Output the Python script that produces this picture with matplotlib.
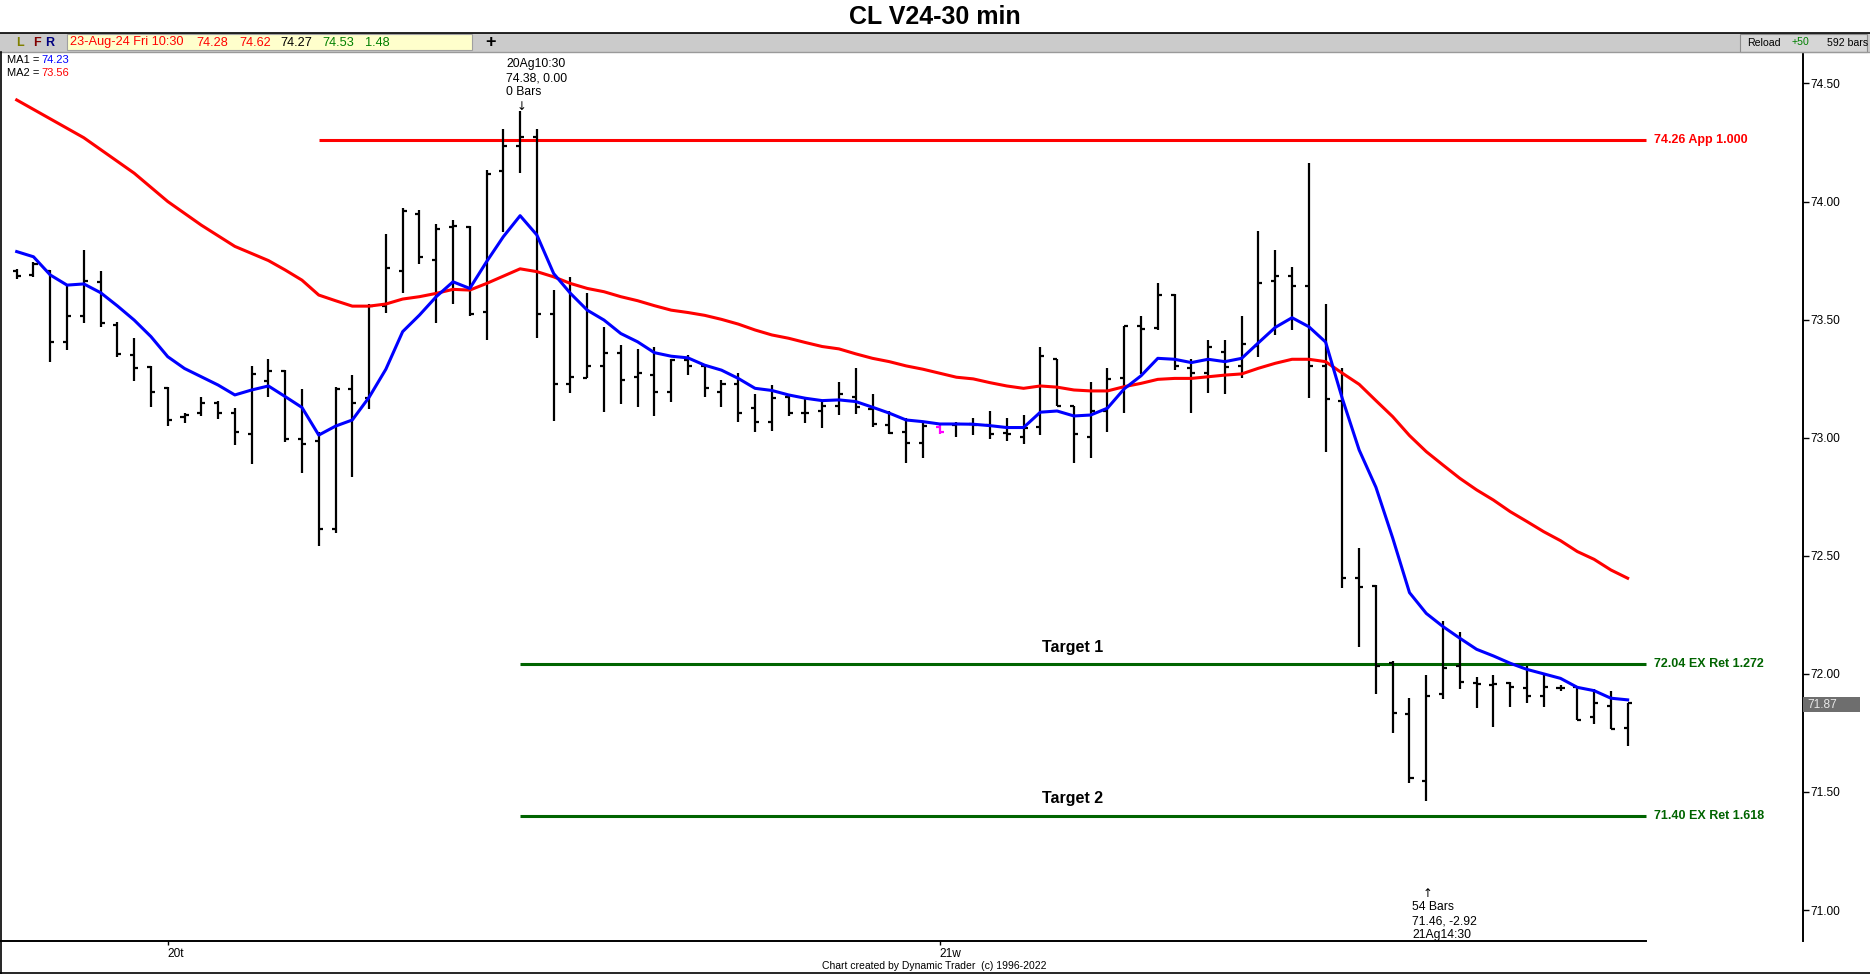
"""CL V24 30-min bar chart with two moving averages and projection levels."""
import numpy as np
import matplotlib
matplotlib.use("Agg")
import matplotlib.pyplot as plt
from matplotlib import font_manager
from matplotlib.patches import Rectangle
from matplotlib.transforms import blended_transform_factory

W, H = 1870, 974
names = {f.name for f in font_manager.fontManager.ttflist}
SANS = "Liberation Sans" if "Liberation Sans" in names else "DejaVu Sans"
NARROW = "Liberation Sans Narrow" if "Liberation Sans Narrow" in names else SANS
plt.rcParams["font.family"] = [SANS, "DejaVu Sans"]

# ---------------- data ----------------
opens = [73.706, 73.687, 73.707, 73.406, 73.516, 73.660, 73.477, 73.350, 73.300, 73.210,
         73.086, 73.106, 73.148, 73.106, 73.015, 73.240, 73.284, 72.993, 72.987, 72.612,
         73.206, 73.170, 73.557, 73.707, 73.947, 73.752, 73.890, 73.893, 73.533, 74.129,
         74.236, 74.271, 73.523, 73.226, 73.254, 73.305, 73.357, 73.258, 73.265, 73.195,
         73.330, 73.305, 73.195, 73.227, 73.124, 73.067, 73.174, 73.106, 73.115, 73.135,
         73.174, 73.120, 73.054, 73.026, 72.977, 73.047, 73.054, 73.058, 73.054, 73.019,
         73.005, 73.047, 73.334, 73.135, 73.005, 73.115, 73.254, 73.474, 73.463, 73.604,
         73.296, 73.275, 73.364, 73.303, 73.388, 73.665, 73.685, 73.642, 73.303, 73.157,
         72.408, 72.370, 72.045, 71.829, 71.547, 71.915, 72.035, 71.960, 71.953, 71.960,
         71.939, 71.908, 71.942, 71.943, 71.819, 71.864, 71.770]
highs = [73.714, 73.744, 73.710, 73.646, 73.794, 73.706, 73.491, 73.423, 73.303, 73.213,
         73.103, 73.174, 73.157, 73.124, 73.303, 73.332, 73.286, 73.205, 73.025, 73.213,
         73.265, 73.566, 73.862, 73.974, 73.964, 73.903, 73.921, 73.895, 74.133, 74.309,
         74.383, 74.309, 73.625, 73.681, 73.611, 73.470, 73.392, 73.374, 73.385, 73.333,
         73.350, 73.314, 73.244, 73.272, 73.187, 73.223, 73.184, 73.171, 73.153, 73.235,
         73.294, 73.184, 73.113, 73.082, 73.068, 73.064, 73.068, 73.085, 73.113, 73.085,
         73.096, 73.383, 73.334, 73.136, 73.235, 73.294, 73.474, 73.515, 73.653, 73.607,
         73.332, 73.414, 73.414, 73.515, 73.875, 73.795, 73.721, 74.162, 73.565, 73.294,
         72.532, 72.376, 72.055, 71.897, 71.995, 72.224, 72.176, 71.986, 71.995, 71.964,
         72.033, 71.995, 71.953, 71.949, 71.935, 71.928, 71.878]
lows = [73.670, 73.682, 73.322, 73.371, 73.484, 73.469, 73.343, 73.241, 73.131, 73.049,
        73.063, 73.092, 73.079, 72.969, 72.889, 73.171, 72.983, 72.852, 72.543, 72.595,
        72.832, 73.120, 73.529, 73.611, 73.734, 73.484, 73.568, 73.515, 73.413, 73.872,
        74.122, 73.420, 73.072, 73.190, 73.254, 73.110, 73.141, 73.131, 73.093, 73.152,
        73.265, 73.173, 73.131, 73.065, 73.022, 73.029, 73.092, 73.064, 73.043, 73.094,
        73.101, 73.044, 73.016, 72.892, 72.913, 73.016, 73.002, 73.012, 72.993, 72.984,
        72.972, 73.012, 73.134, 72.892, 72.913, 73.022, 73.103, 73.270, 73.456, 73.287,
        73.103, 73.191, 73.184, 73.251, 73.343, 73.435, 73.456, 73.169, 72.941, 72.362,
        72.113, 71.914, 71.751, 71.537, 71.463, 71.892, 71.935, 71.854, 71.774, 71.861,
        71.875, 71.861, 71.929, 71.805, 71.788, 71.765, 71.695]
closes = [73.684, 73.735, 73.406, 73.516, 73.665, 73.487, 73.353, 73.296, 73.195, 73.075,
          73.096, 73.148, 73.103, 73.025, 73.268, 73.284, 72.993, 72.973, 72.613, 73.207,
          73.145, 73.557, 73.717, 73.959, 73.766, 73.882, 73.896, 73.523, 74.115, 74.236,
          74.274, 73.523, 73.226, 73.258, 73.305, 73.357, 73.244, 73.275, 73.195, 73.331,
          73.305, 73.209, 73.227, 73.103, 73.067, 73.166, 73.106, 73.106, 73.135, 73.185,
          73.129, 73.057, 73.019, 72.977, 73.050, 73.026, 73.058, 73.054, 73.016, 73.016,
          73.040, 73.346, 73.135, 73.016, 73.115, 73.247, 73.474, 73.459, 73.604, 73.303,
          73.275, 73.385, 73.298, 73.395, 73.656, 73.685, 73.642, 73.303, 73.164, 72.408,
          72.367, 72.033, 71.836, 71.558, 71.908, 72.026, 71.967, 71.957, 71.957, 71.946,
          71.908, 71.946, 71.939, 71.805, 71.878, 71.765, 71.878]
ma1 = [73.788, 73.766, 73.689, 73.646, 73.651, 73.614, 73.558, 73.498, 73.428, 73.343,
       73.293, 73.258, 73.223, 73.181, 73.202, 73.219, 73.174, 73.128, 73.011, 73.049,
       73.075, 73.171, 73.290, 73.449, 73.519, 73.597, 73.660, 73.632, 73.745, 73.851,
       73.940, 73.858, 73.695, 73.611, 73.540, 73.498, 73.441, 73.406, 73.360, 73.345,
       73.338, 73.307, 73.286, 73.251, 73.209, 73.200, 73.181, 73.167, 73.157, 73.160,
       73.153, 73.129, 73.104, 73.075, 73.068, 73.058, 73.058, 73.057, 73.051, 73.043,
       73.043, 73.108, 73.113, 73.092, 73.096, 73.125, 73.207, 73.262, 73.336, 73.332,
       73.318, 73.332, 73.322, 73.336, 73.402, 73.467, 73.508, 73.470, 73.405, 73.165,
       72.948, 72.790, 72.575, 72.344, 72.256, 72.200, 72.151, 72.104, 72.076, 72.045,
       72.019, 72.000, 71.981, 71.943, 71.929, 71.897, 71.890]
ma2 = [74.430, 74.390, 74.350, 74.310, 74.270, 74.220, 74.170, 74.120, 74.060, 74.000,
       73.950, 73.900, 73.855, 73.810, 73.780, 73.750, 73.710, 73.667, 73.604, 73.580,
       73.557, 73.557, 73.566, 73.587, 73.597, 73.611, 73.628, 73.625, 73.653, 73.684,
       73.715, 73.703, 73.681, 73.653, 73.632, 73.618, 73.597, 73.580, 73.559, 73.540,
       73.530, 73.518, 73.501, 73.481, 73.456, 73.435, 73.421, 73.403, 73.386, 73.376,
       73.355, 73.336, 73.322, 73.304, 73.290, 73.273, 73.256, 73.249, 73.233, 73.219,
       73.209, 73.219, 73.214, 73.202, 73.198, 73.198, 73.216, 73.230, 73.247, 73.251,
       73.251, 73.258, 73.265, 73.270, 73.294, 73.315, 73.332, 73.332, 73.322, 73.273,
       73.226, 73.157, 73.089, 73.009, 72.941, 72.884, 72.828, 72.779, 72.736, 72.687,
       72.645, 72.602, 72.564, 72.518, 72.485, 72.440, 72.405]

level_prices = [74.26, 72.04, 71.40]
level_labels = ["74.26 App 1.000", "72.04 EX Ret 1.272", "71.40 EX Ret 1.618"]
level_start_bar = [18, 30, 30]
target_names = ["Target 1", "Target 2"]

day_ticks = [9, 55]
day_labels = ["20t", "21w"]
y_ticks = [71.0, 71.5, 72.0, 72.5, 73.0, 73.5, 74.0, 74.5]

peak_bar, trough_bar = 30, 84
peak_text = ["20Ag10:30", "74.38, 0.00", "0 Bars"]
trough_text = ["54 Bars", "71.46, -2.92", "21Ag14:30"]
last_price = 71.87
ma1_now, ma2_now = "74.23", "73.56"

RED, BLUE, GREEN = "#FF0000", "#0000FF", "#006400"
HIGHLIGHT_BAR = 55

# ---------------- figure ----------------
fig = plt.figure(figsize=(W / 100, H / 100), dpi=100)
fig.patch.set_facecolor("white")

# price panel (drawn first, chrome overlay goes on top)
ax = fig.add_axes([0, 33 / H, 1803 / W, (941 - 52) / H])
ax.patch.set_visible(False)
n = len(closes)
x = np.arange(n)
ax.set_xlim(-0.995, 106.45)
ax.set_ylim(70.869, 74.633)

level_end = n + 0.1
for price, lab, start, col in zip(level_prices, level_labels, level_start_bar,
                                  [RED, GREEN, GREEN]):
    ax.hlines(price, start, level_end, color=col, lw=2.2, zorder=2)
    ax.text(level_end + 0.45, price, lab, ha="left", va="center", color=col,
            fontsize=9, fontweight="bold", family=NARROW)
for name, price in zip(target_names, level_prices[1:]):
    ax.annotate(name, (62.9, price), xytext=(0, 17), textcoords="offset pixels",
                ha="center", va="center", fontsize=11.5, fontweight="bold", family=NARROW)

colors = ["black"] * n
colors[HIGHLIGHT_BAR] = "#FF00FF"
ax.vlines(x, lows, highs, colors=colors, lw=1.6, zorder=3)
ax.hlines(opens, x - 0.24, x, colors=colors, lw=1.6, zorder=3)
ax.hlines(closes, x, x + 0.24, colors=colors, lw=1.6, zorder=3)

ax.plot(x, ma2, color=RED, lw=2.2, zorder=4)
ax.plot(x, ma1, color=BLUE, lw=2.2, zorder=5)

# swing annotations
for k, s in enumerate(peak_text):
    ax.annotate(s, (peak_bar, highs[peak_bar]), xytext=(-14, 47 - 14 * k),
                textcoords="offset pixels", ha="left", va="center", fontsize=8.7)
ax.annotate("\u2193", (peak_bar, highs[peak_bar]), xytext=(1, 5), textcoords="offset pixels",
            ha="center", va="center", fontsize=8.5, family=["DejaVu Sans"])
ax.annotate("\u2191", (trough_bar, lows[trough_bar]), xytext=(1, -93), textcoords="offset pixels",
            ha="center", va="center", fontsize=8.5, family=["DejaVu Sans"])
for k, s in enumerate(trough_text):
    ax.annotate(s, (trough_bar, lows[trough_bar]), xytext=(-14, -106.5 - 14 * k),
                textcoords="offset pixels", ha="left", va="center", fontsize=8.7)

# spines / axes
ax.spines["top"].set_visible(False)
ax.spines["left"].set_visible(False)
ax.spines["right"].set_linewidth(1.4)
ax.spines["bottom"].set_linewidth(1.4)
ax.spines["bottom"].set_bounds(-0.995, level_end)

ax.yaxis.tick_right()
ax.set_yticks(y_ticks)
ax.set_yticklabels([f"{v:.2f}" for v in y_ticks])
ax.tick_params(axis="y", direction="out", length=4, width=1, pad=1, labelsize=8.6)
ax.set_xticks(day_ticks)
ax.set_xticklabels(day_labels)
ax.tick_params(axis="x", direction="out", length=3, width=1, pad=2, labelsize=8.6)
for lab in ax.get_xticklabels():
    lab.set_ha("left")

# last price marker on the scale
tr = blended_transform_factory(ax.transAxes, ax.transData)
ax.add_patch(Rectangle((1.0, last_price - 0.032), 57 / 1803, 0.064, transform=tr,
                       fc="#6E6E6E", ec="none", clip_on=False, zorder=6))
ax.text(1.0 + 4 / 1803, last_price, f"{last_price:.2f}", transform=tr, ha="left",
        va="center", fontsize=8.6, color="#E8E8E8", zorder=7)

# overlay in pixel coordinates for the window chrome
ov = fig.add_axes([0, 0, 1, 1])
ov.set_xlim(0, W)
ov.set_ylim(H, 0)
ov.axis("off")
ov.patch.set_visible(False)

ov.text(935, 17, "CL V24-30 min", ha="center", va="center", fontsize=18, fontweight="bold")
ov.plot([0, W], [32.5, 32.5], color="black", lw=1.2)
ov.add_patch(Rectangle((0, 33), W, 19, fc="#CBCBCB", ec="none"))
ov.plot([0, W], [52, 52], color="#9A9A9A", lw=1)
for xx, ch, col in [(20, "L", "#808000"), (37, "F", "#800000"), (50, "R", "#000080")]:
    ov.text(xx, 42.5, ch, ha="center", va="center", fontsize=9, fontweight="bold", color=col)
ov.add_patch(Rectangle((67, 34), 405, 16, fc="#FFFFCC", ec="#A0A0A0", lw=0.8))
for xx, s, col in [(70.5, "23-Aug-24 Fri 10:30", RED), (196, "74.28", RED), (239, "74.62", RED),
                   (280, "74.27", "black"), (322, "74.53", "#008000"), (365, "1.48", "#008000")]:
    ov.text(xx, 42.5, s, ha="left", va="center", fontsize=9.2, color=col)
ov.text(490, 42, "+", ha="center", va="center", fontsize=13, fontweight="bold")
ov.add_patch(Rectangle((1740, 33.5), 127, 18, fc="#D6D6D6", ec="#8C8C8C", lw=0.8))
ov.text(1747, 42.5, "Reload", ha="left", va="center", fontsize=7.6)
ov.text(1792, 42, "+50", ha="left", va="center", fontsize=7.6, color="#008000")
ov.text(1827, 42.5, "592 bars", ha="left", va="center", fontsize=7.6)
ov.text(7, 60, "MA1 =", ha="left", va="center", fontsize=8)
ov.text(41, 60, ma1_now, ha="left", va="center", fontsize=8, color=BLUE)
ov.text(7, 73, "MA2 =", ha="left", va="center", fontsize=8)
ov.text(41, 73, ma2_now, ha="left", va="center", fontsize=8, color=RED)
ov.text(934, 966, "Chart created by Dynamic Trader  (c) 1996-2022", ha="center", va="center",
        fontsize=7.5)
ov.plot([0, W], [973, 973], color="black", lw=1.2)
ov.plot([0.5, 0.5], [52, 974], color="black", lw=1.2)

fig.savefig("out.png", dpi=100)
